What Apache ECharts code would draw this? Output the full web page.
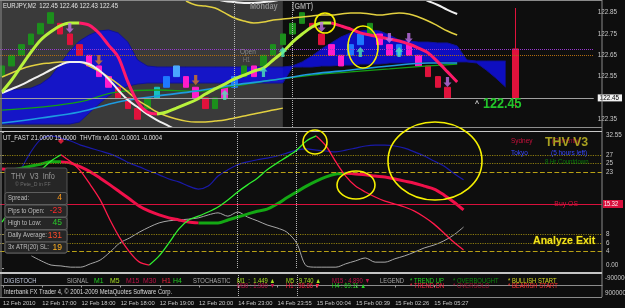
<!DOCTYPE html>
<html><head><meta charset="utf-8">
<script src="https://cdn.jsdelivr.net/npm/echarts@6/dist/echarts.min.js"></script>
<style>html,body{margin:0;padding:0;background:#0e0e0e;}#c{width:625px;height:308px;}</style>
</head><body><div id="c"></div>
<script>
// ---------------- DATA ----------------
const dateLabels = ['12 Feb 2010','12 Feb 17:00','12 Feb 18:00','12 Feb 18:00','12 Feb 19:00','12 Feb 20:00','14 Feb 23:00','14 Feb 23:55','15 Feb 00:04','15 Feb 00:39','15 Feb 02:26','15 Feb 05:27'];
const priceTicks = [122.35,122.45,122.55,122.65,122.75,122.85];
const lastPrice = 122.45;
const barOpen  = [122.55,122.60,122.65,122.70,122.75,122.80,122.80,122.75,122.70,122.65,122.60,122.55,122.50,122.45,122.40,122.40,122.45,122.50,122.55,122.55,122.50,122.45,122.40,122.50,122.50,122.55,122.60,122.60,122.65,122.70,122.75,122.80,122.80,122.75,122.70,122.65,122.65,122.70,122.75,122.75,122.70,122.65,122.70,122.65,122.60,122.55,122.50];
const barClose = [122.60,122.65,122.70,122.75,122.80,122.85,122.75,122.70,122.65,122.60,122.55,122.50,122.45,122.40,122.35,122.45,122.50,122.55,122.60,122.50,122.45,122.40,122.45,122.45,122.55,122.60,122.55,122.65,122.70,122.75,122.80,122.85,122.78,122.70,122.65,122.60,122.70,122.75,122.80,122.70,122.65,122.70,122.65,122.60,122.55,122.50,122.45];
const barTone  = ['g','g','g','g','g','g','r','r','r','m','m','m','r','r','r','g','t','b','l','m','m','r','g','m','b','g','m','g','g','g','g','g','r','r','m','m','b','b','g','m','m','b','m','m','r','r','r'];
const dayBar = [53, 122.68, 122.45, 122.402, 122.872];
const maLine = [122.478,122.534,122.600,122.665,122.722,122.759,122.788,122.802,122.802,122.792,122.755,122.698,122.642,122.525,122.431,122.384,122.374,122.384,122.402,122.421,122.440,122.468,122.492,122.515,122.539,122.557,122.576,122.590,122.628,122.665,122.712,122.750,122.783,122.802,122.802,122.788,122.773,122.755,122.745,122.736,122.726,122.717,122.703,122.684,122.661,122.619,122.572,122.525];
const whiteLower = [122.473,122.492,122.511,122.534,122.557,122.581,122.604,122.619,122.619,122.609,122.581,122.539,122.487,122.440,122.407,122.374,122.346,122.323,122.300];
const whiteUpper = [null,null,null,null,null,null,null,null,null,null,null,null,null,null,null,null,null,null,null,null,null,122.925,122.915,122.905,122.900,122.896,122.896,122.900,122.905,122.915,null,null,null,null,null,null,null,null,null,null,null,null,null,122.925,122.905,122.886,122.863,122.844];
const yellowLower = [122.548,122.567,122.586,122.600,122.609,122.614,122.619,122.619,122.619,122.600,122.576,122.548,122.515,122.478,122.440,122.412,122.384,122.365,122.351,122.341,122.337,122.337,122.341,122.346,122.356,122.365,122.374,122.384,122.393,122.402];
const yellowUpper = [null,null,null,null,null,null,null,null,null,null,null,null,null,null,null,null,null,null,null,122.905,122.886,122.881,122.872,122.849,122.825,122.811,122.802,122.806,122.816,122.820,122.825,122.830,122.834,122.839,122.839,122.844,122.849,122.849,122.844,122.839,122.844,122.849,122.844,122.830,122.811,122.788,122.764,122.745];
const greenSlow = [122.393,null,null,null,122.407,null,null,null,122.431,null,null,null,122.478,null,null,null,122.487,null,null,null,122.482,null,null,null,122.506,null,null,null,122.534,null,null,null,122.557,null,null,null,122.572,null,null,null,122.586,null,null,null,122.600,null,null,122.609];
const cyanSlow  = [122.332,null,null,null,122.356,null,null,null,122.384,null,null,null,122.431,null,null,null,122.459,null,null,null,122.482,null,null,null,122.511,null,null,null,122.534,null,null,null,122.562,null,null,null,122.581,null,null,null,122.600,null,null,null,122.614,null,null,122.614];
const cloudTop = [122.487,122.487,122.492,122.496,122.515,122.548,122.609,122.670,122.717,122.745,122.764,122.769,122.755,122.712,122.628,122.600,122.595,122.595,122.595,122.595,122.595,122.595,122.595,122.595,122.595,122.595,122.595,122.595,122.595,122.595,122.600,122.619,122.647,122.680,122.708,122.736,122.755,122.764,122.769,122.764,122.745,122.722,122.717,122.712,122.712,122.708,122.708,122.694,122.628,122.623,122.623,122.623,122.623];
const cloudBottom = [122.327,122.327,122.327,122.327,122.327,122.327,122.327,122.327,122.337,122.379,122.421,122.459,122.487,122.506,122.515,122.520,122.520,122.520,122.520,122.520,122.520,122.520,122.520,122.520,122.520,122.520,122.520,122.520,122.520,122.520,122.595,122.595,122.595,122.600,122.600,122.604,122.604,122.609,122.609,122.609,122.614,122.614,122.614,122.619,122.619,122.619,122.619,122.619,122.619,122.614,122.581,122.543,122.501];
const upArrows   = [[23,122.464],[27,122.572],[29,122.665],[37,122.665],[41,122.665]];
const downArrows = [[7,122.778],[33,122.783],[40,122.731],[42,122.731],[46,122.525]];
const orangeArrows = [[10,122.628],[20,122.534]];
const dailyLevels = [122.68, 122.647];
const sessionMarks = [24, 30];
const indTicks = [0,4,6,8,23,25,27,32.55];
const navyLine = [null,null,23.9,28.0,30.9,31.6,31.1,30.4,29.4,28.7,28.0,27.3,26.3,25.1,24.2,23.2,22.3,21.3,20.6,19.6,18.9,19.6,22.0,23.5,24.7,25.4,25.9,26.3,26.8,27.5,28.2,28.5,28.2,28.0,27.8,28.2,28.7,29.2,29.4,29.4,29.2,28.7,27.8,26.8,25.6,24.4,22.7,21.1];
const thinStoch = [11.0,14.4,17.7,21.1,23.5,25.6,27.1,25.4,23.2,19.9,16.3,11.5,7.2,3.8,1.4,0.7,2.9,6.0,9.3,11.5,12.4,13.4,14.6,16.3,18.2,19.9,21.5,23.5,25.1,26.6,28.2,30.4,31.6,29.2,25.4,22.0,19.6,18.2,17.0,16.0,15.3,14.6,13.6,12.2,10.5,8.4,6.2,4.3];
const thickSignal = [23.7,23.5,23.9,24.4,24.9,25.4,25.4,25.1,24.2,23.0,21.5,19.9,18.2,16.5,14.8,13.6,12.7,12.0,11.5,11.0,10.8,10.8,10.8,11.5,12.2,12.9,13.6,14.1,15.3,16.8,18.2,19.6,20.8,21.8,22.5,22.7,22.5,22.3,22.0,21.8,21.3,20.8,20.3,19.6,18.9,17.5,15.8,13.9];
const grayLine = [null,null,null,2.9,1.7,0.7,0.5,0.2,0.2,1.0,1.9,3.8,6.0,7.2,8.6,9.8,10.8,11.3,11.5,11.7,12.0,12.7,13.2,12.4,13.4,12.2,11.3,10.3,9.6,8.6,6.0,0.5,0.2,0.2,0.2,1.0,1.7,2.4,1.4,1.4,2.2,2.9,3.8,4.8,5.5,6.5,7.9,9.8];
const signalDot = [[6,30.4]];
const dottedLevels = [27,25,8,6];
const dashedLevels = [23,4];
const buyOS = 15.32;

// ---------------- HELPERS ----------------
const FONT = 'Liberation Sans, Arial, sans-serif';
const toneColor = {g:'#1c8f1c', r:'#e0123c', m:'#ff1ccc', b:'#1e78ff', l:'#4aa8ff', t:'#16c0c0'};
const pairs = vals => vals.map((v,i)=>[i, v==null?'-':v]);
function trend(vals, rising){
  const out = vals.map((v,i)=>[i,'-']);
  for(let i=0;i<vals.length-1;i++){
    const a=vals[i], b=vals[i+1];
    if(a==null||b==null) continue;
    if((b>=a)===rising){ out[i][1]=a; out[i+1][1]=b; }
  }
  return out;
}
const candles = barOpen.map((o,i)=>{
  const c = barClose[i], col = toneColor[barTone[i]];
  return {value:[i,o,c,Math.min(o,c),Math.max(o,c)], itemStyle:{color:col,color0:col,borderColor:col,borderColor0:col}};
});
candles.push({value:dayBar, itemStyle:{color:'#e0123c',color0:'#e0123c',borderColor:'#e0123c',borderColor0:'#e0123c'}});

const XMIN = -0.2037, XMAX = 61.1;
function xAx(g, show){
  return {type:'value', gridIndex:g, min:XMIN, max:XMAX, show:true,
    splitLine:{show:false},
    axisLine:{show:show, lineStyle:{color:'#8c8c8c'}},
    axisTick:{show:show, customValues:dateLabels.map((d,k)=>k*4), length:2, lineStyle:{color:'#9a9a9a'}},
    axisLabel:{show:show, customValues:dateLabels.map((d,k)=>k*4), formatter:v=>dateLabels[Math.round(v/4)]||'', color:'#c8c8c8', fontSize:5.8, fontFamily:FONT, align:'left', margin:3}
  };
}
const lineBase = {type:'line', symbol:'none', silent:true, animation:false};
const vMarks = {symbol:'none', silent:true, label:{show:false}, lineStyle:{color:'#b4b4b4', type:'dotted', width:1}, data:sessionMarks.map(x=>({xAxis:x}))};

function T(x,y,text,fill,size,extra){
  extra = extra||{};
  return {type:'text', x:x, y:y, z:100, silent:true, scaleX:(extra.scaleX!=null?extra.scaleX:0.86),
    style:Object.assign({text:text, fill:fill, fontSize:size, fontFamily:FONT, verticalAlign:'middle', align:'left'}, extra.style||{})};
}
function L(x1,y1,x2,y2,col,w){
  return {type:'line', z:100, silent:true, shape:{x1,y1,x2,y2}, style:{stroke:col, lineWidth:w||1}};
}
function E(cx,cy,rx,ry){
  return {type:'ellipse', z:101, silent:true, shape:{cx,cy,rx,ry}, style:{fill:'none', stroke:'#f5f000', lineWidth:1.6}};
}
function R(x,y,w,h,fill,stroke){
  return {type:'rect', z:99, silent:true, shape:{x,y,width:w,height:h,r:2}, style:{fill:fill, stroke:stroke}};
}
const upPath = 'path://M5,0 L10,5 L7,5 L7,11 L3,11 L3,5 L0,5 Z';
const dnPath = 'path://M3,0 L7,0 L7,6 L10,6 L5,11 L0,6 L3,6 Z';

const graphics = [
  L(0,0.5,602,0.5,'#8a8a8a'), L(1,0,1,297,'#8a8a8a'), L(602,0,602,297,'#8a8a8a'),
  L(0,127.5,602,127.5,'#8e8e8e'), L(0,131.5,602,131.5,'#c8c8c8',1.2),
  L(0,273,602,273,'#c4c4c4',2), L(0,297.5,602,297.5,'#8a8a8a'),
  T(3,6,'EURJPY,M2  122.45 122.46 122.43 122.45','#e6e6e6',7),
  T(250,7,'Monday','#8c8c8c',8.5,{style:{fontWeight:'bold'}}),
  T(292,7,'(GMT)','#9a9a9a',8.5,{style:{fontWeight:'bold'}}),
  T(240,52,'Open','#8a8a8a',7.5),
  T(243,60,'H1','#7a7a7a',6.5),
  T(475,104,'^','#d8d8d8',8,{style:{fontWeight:'bold'}}),
  T(483,104,'122.45','#22c42a',14,{scaleX:0.9, style:{fontWeight:'bold'}}),
  T(3,138,'UT_FAST 21.0000 15.0000  THVTrix v6.01 -0.0001 -0.0004','#e0e0e0',7),
  T(511,141,'Sydney','#c8103c',7.5),
  T(552,141,'(Currently)','#b01038',7),
  T(545,142,'THV V3','#a8a020',13,{scaleX:0.95, style:{fontWeight:'bold'}}),
  T(511,153,'Tokyo','#3848ff',7.5),
  T(551,153,'(5 hours left)','#3848ff',7.5),
  T(545,162,'8 Hr Countdown','#0a7a0a',7),
  T(578,204,'Buy OS','#d8103c',8,{style:{align:'right'}}),
  {type:'rect', z:100, silent:true, shape:{x:603,y:200,width:20,height:8}, style:{fill:'#d8103c'}},
  T(604,204.5,'15.32','#ffffff',6.5),
  T(533,241,'Analyze Exit','#f2e41c',11.5,{scaleX:0.92, style:{fontWeight:'bold', stroke:'#3a3000', lineWidth:1}}),
  R(5,168,62,85,'#262626','#555555'),
  R(5,192.5,62,12,'#262626','#5e5e5e'), R(5,205,62,12,'#262626','#5e5e5e'), R(5,217.5,62,12,'#262626','#5e5e5e'),
  R(5,230,62,12,'#262626','#5e5e5e'), R(5,242,62,11,'#262626','#5e5e5e'),
  T(11,177,'THV  V3  Info','#9a9a9a',8.5),
  T(15,184.5,'© Pete_D in FF','#6e6e6e',6),
  T(8,198,'Spread:','#bdbdbd',7), T(8,211,'Pips to Open:','#bdbdbd',7), T(8,223,'High to Low:','#bdbdbd',7),
  T(8,235.5,'Daily Average:','#bdbdbd',7), T(8,247.5,'3x ATR(20) SL:','#bdbdbd',7),
  T(62,198,'4','#ff9a1a',8.5,{scaleX:1,style:{align:'right'}}),
  T(62,211,'-23','#ff2a2a',8.5,{scaleX:1,style:{align:'right'}}),
  T(62,223,'45','#2ac82a',8.5,{scaleX:1,style:{align:'right'}}),
  T(62,235.5,'131','#ff4a2a',8.5,{scaleX:1,style:{align:'right'}}),
  T(62,247.5,'19','#ffb020',8.5,{scaleX:1,style:{align:'right'}}),
  T(4,281,'DIGISTOCH','#c0c8dc',6.8),
  T(67,281,'SIGNAL','#a8a8a8',6.8),
  T(94,281,'M1','#22d022',8), T(110,281,'M5','#a8e020',8), T(126,281,'M15','#c01048',8),
  T(143,281,'M30','#c01048',8), T(162,281,'H1','#ff2040',8), T(173,281,'H4','#22d022',8),
  T(193,281,'STOCHASTIC','#a8a8a8',6.8),
  T(237,281,'M1  :  1.449 ▲','#a8e020',6.8), T(237,286.5,'M30 : 1.980 ▼','#c01048',6.8),
  T(286,281,'M5 : 9.740 ▲','#a8e020',6.8), T(286,286.5,'H1 : 98.86 ▼','#ff2040',6.8),
  T(332,281,'M15 : 4.890 ▼','#c01048',6.8), T(332,286.5,'H4 : 69.11 ▲','#22d022',6.8),
  T(380,281,'LEGEND','#a8a8a8',6.8),
  T(410,281,'* TREND UP','#22d022',6.8), T(410,286.5,'* TREND DN','#ff2040',6.8),
  T(453,281,'* OVERBOUGHT','#0c8a0c',6.8), T(453,286.5,'* OVERSOLD','#a01030',6.8),
  T(508,281,'* BULLISH START','#d8d820',6.8), T(508,286.5,'* BEARISH START','#ff3030',6.8),
  T(4,292,'Interbank FX Trader 4, © 2001-2009 MetaQuotes Software Corp.','#d8d8d8',6.8),
  T(605,278,'-9000000','#c8c8c8',6.3,{scaleX:1}), T(605,293,'9000000','#c8c8c8',6.3,{scaleX:1}),
  E(325,23,10,10), E(363,47,15,21), E(315,142,12,12), E(356,185,19,14), E(435,161,47,39)
];

const option = {
  backgroundColor:'#0e0e0e',
  animation:false,
  grid:[
    {left:0, width:602, top:0, height:127},
    {left:0, width:602, top:132, height:136},
    {left:0, width:602, top:275, height:22}
  ],
  xAxis:[xAx(0,false), xAx(1,false), xAx(2,true)],
  yAxis:[
    {type:'value', gridIndex:0, position:'right', min:122.3134, max:122.9096, splitLine:{show:false},
      axisLine:{show:false}, axisTick:{show:true, customValues:priceTicks, length:2, lineStyle:{color:'#a0a0a0'}},
      axisLabel:{customValues:priceTicks, margin:4, fontSize:6.3, fontFamily:FONT, color:'#c8c8c8',
        formatter:v=> Math.abs(v-lastPrice)<1e-6 ? '{hl|'+v.toFixed(2)+'}' : v.toFixed(2),
        rich:{hl:{backgroundColor:'#f2f2f2', color:'#000', fontSize:6.3, padding:[1,3,0,2]}}}},
    {type:'value', gridIndex:1, position:'right', min:0, max:32.55, splitLine:{show:false},
      axisLine:{show:false}, axisTick:{show:true, customValues:indTicks, length:2, lineStyle:{color:'#a0a0a0'}},
      axisLabel:{customValues:indTicks, margin:4, fontSize:6.3, fontFamily:FONT, color:'#c8c8c8', verticalAlignMaxLabel:'top', verticalAlignMinLabel:'bottom',
        formatter:v=> (v===0||v===32.55)? v.toFixed(2) : String(v)}},
    {type:'value', gridIndex:2, position:'right', inverse:true, min:-1260000, max:1380000, splitLine:{show:false},
      axisLine:{show:false}, axisTick:{show:false}, axisLabel:{show:false}}
  ],
  graphic: graphics,
  series:[
    // session shading + cloud edges
    Object.assign({}, lineBase, {xAxisIndex:0, yAxisIndex:0, z:2, data:pairs(cloudBottom), lineStyle:{width:1, color:'#10109a'},
      markArea:{silent:true, itemStyle:{color:'#3a3a3a'}, data:[[{xAxis:XMIN},{xAxis:29}]]}}),
    // cloud fill drawn as one polygon through the axes
    {type:'custom', xAxisIndex:0, yAxisIndex:0, z:2, silent:true, animation:false, clip:true,
      data:cloudTop.map((t,i)=>[i,t,cloudBottom[i]]),
      renderItem:(params, api)=>{
        if(params.dataIndex!==0) return null;
        const pts = cloudTop.map((t,i)=>api.coord([i,t])).concat(cloudBottom.map((b,i)=>api.coord([i,b])).reverse());
        return {type:'polygon', shape:{points:pts}, style:{fill:'rgba(14,14,226,0.84)'}};
      }},
    Object.assign({}, lineBase, {xAxisIndex:0, yAxisIndex:0, z:2, data:pairs(cloudTop), lineStyle:{width:1, color:'#10109a'}}),
    {type:'candlestick', xAxisIndex:0, yAxisIndex:0, z:3, barWidth:6, silent:true, animation:false, encode:{x:0, y:[1,2,3,4]}, data:candles,
      markLine:Object.assign({}, vMarks, {data:vMarks.data.concat([
        {yAxis:dailyLevels[0], lineStyle:{color:'#9838d0', type:'dotted'}},
        {yAxis:dailyLevels[1], lineStyle:{color:'#b06a10', type:'dotted'}},
        {yAxis:lastPrice, lineStyle:{color:'#a0a0a0', type:'solid'}}])})},
    Object.assign({}, lineBase, {xAxisIndex:0, yAxisIndex:0, z:4, smooth:0.4, connectNulls:true, data:pairs(greenSlow), lineStyle:{color:'#14a014', width:1.3}}),
    Object.assign({}, lineBase, {xAxisIndex:0, yAxisIndex:0, z:4, smooth:0.4, connectNulls:true, data:pairs(cyanSlow), lineStyle:{color:'#1e9ae0', width:1.6}}),
    Object.assign({}, lineBase, {xAxisIndex:0, yAxisIndex:0, z:4, smooth:0.4, data:pairs(yellowLower), lineStyle:{color:'#e2d040', width:1.5}}),
    Object.assign({}, lineBase, {xAxisIndex:0, yAxisIndex:0, z:4, smooth:0.4, data:pairs(yellowUpper), lineStyle:{color:'#e2d040', width:1.5}}),
    Object.assign({}, lineBase, {xAxisIndex:0, yAxisIndex:0, z:4, smooth:0.4, data:pairs(whiteLower), lineStyle:{color:'#f0f0f0', width:2}}),
    Object.assign({}, lineBase, {xAxisIndex:0, yAxisIndex:0, z:4, smooth:0.4, data:pairs(whiteUpper), lineStyle:{color:'#f0f0f0', width:2}}),
    Object.assign({}, lineBase, {xAxisIndex:0, yAxisIndex:0, z:5, smooth:0.3, data:trend(maLine,true), lineStyle:{color:'#b8f23c', width:3}}),
    Object.assign({}, lineBase, {xAxisIndex:0, yAxisIndex:0, z:5, smooth:0.3, data:trend(maLine,false), lineStyle:{color:'#ff1a6a', width:3}}),
    {type:'scatter', xAxisIndex:0, yAxisIndex:0, z:6, silent:true, animation:false, symbol:upPath, symbolSize:[8,10], itemStyle:{color:'#4ee8b8'}, data:upArrows},
    {type:'scatter', xAxisIndex:0, yAxisIndex:0, z:6, silent:true, animation:false, symbol:dnPath, symbolSize:[8,10], itemStyle:{color:'#c070e8'}, data:downArrows},
    {type:'scatter', xAxisIndex:0, yAxisIndex:0, z:6, silent:true, animation:false, symbol:dnPath, symbolSize:[8,10], itemStyle:{color:'#d87a20'}, data:orangeArrows},
    Object.assign({}, lineBase, {xAxisIndex:1, yAxisIndex:1, z:3, smooth:0.3, data:pairs(navyLine), lineStyle:{color:'#1a1aa8', width:1.2},
      markLine:Object.assign({}, vMarks, {data:vMarks.data.concat(
        dottedLevels.map(v=>({yAxis:v, lineStyle:{color:'#8c7c10', type:'dotted', width:1.2}})),
        dashedLevels.map(v=>({yAxis:v, lineStyle:{color:'#b8a014', type:'dashed', width:1.2}})),
        [{yAxis:buyOS, lineStyle:{color:'#d8103c', type:'solid', width:1.2}}])})}),
    Object.assign({}, lineBase, {xAxisIndex:1, yAxisIndex:1, z:3, smooth:0.3, data:pairs(grayLine), lineStyle:{color:'#a8a8a8', width:1}}),
    Object.assign({}, lineBase, {xAxisIndex:1, yAxisIndex:1, z:4, smooth:0.3, data:trend(thickSignal,true), lineStyle:{color:'#14a814', width:3}}),
    Object.assign({}, lineBase, {xAxisIndex:1, yAxisIndex:1, z:4, smooth:0.3, data:trend(thickSignal,false), lineStyle:{color:'#f0104a', width:3}}),
    Object.assign({}, lineBase, {xAxisIndex:1, yAxisIndex:1, z:5, smooth:0.3, data:trend(thinStoch,true), lineStyle:{color:'#30f030', width:1.3}}),
    Object.assign({}, lineBase, {xAxisIndex:1, yAxisIndex:1, z:5, smooth:0.3, data:trend(thinStoch,false), lineStyle:{color:'#ff1a4a', width:1.3}}),
    {type:'scatter', xAxisIndex:1, yAxisIndex:1, z:6, silent:true, animation:false, symbol:'diamond', symbolSize:6, itemStyle:{color:'#ff2040'}, data:signalDot},
    Object.assign({}, lineBase, {xAxisIndex:2, yAxisIndex:2, z:3, data:[], markLine:vMarks})
  ]
};
const chart = echarts.init(document.getElementById('c'));
chart.setOption(option);
</script></body></html>
